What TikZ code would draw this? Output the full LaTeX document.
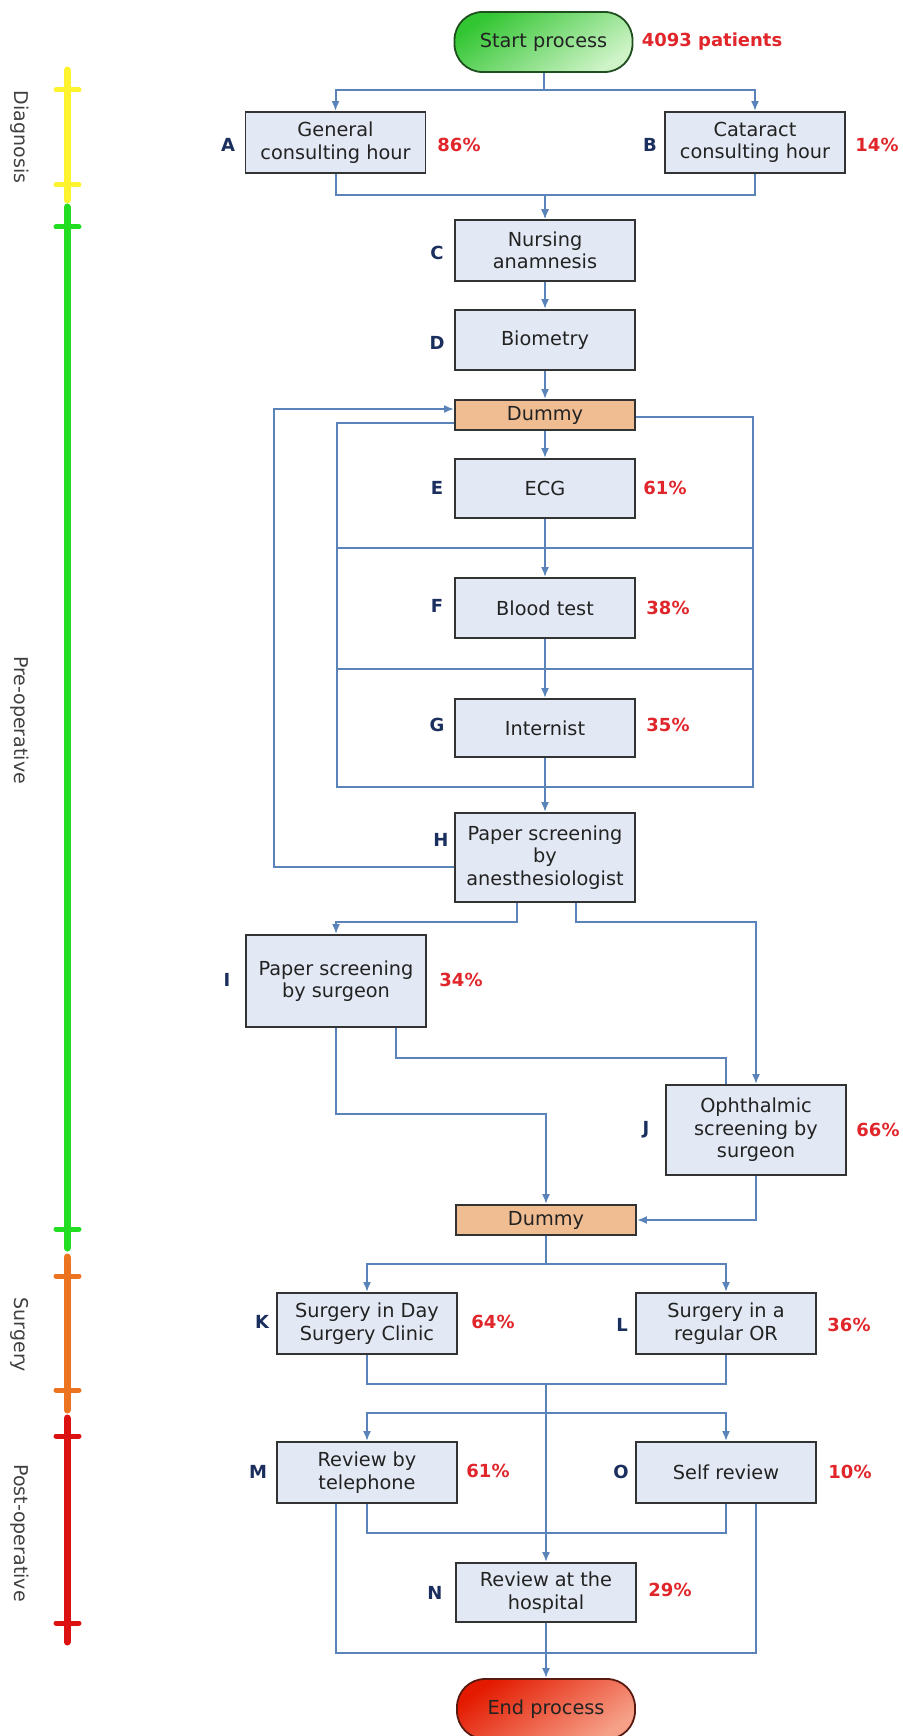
\documentclass[tikz,border=0pt]{standalone}
\usepackage{fontspec}
\setmainfont{DejaVu Sans}
\usetikzlibrary{arrows.meta,calc}

\definecolor{connblue}{HTML}{5A83B9}
\definecolor{boxline}{HTML}{333333}
\definecolor{boxfill}{HTML}{E3E9F4}
\definecolor{boxtext}{HTML}{222222}
\definecolor{dummyfill}{HTML}{F0BC91}
\definecolor{lblblue}{HTML}{1B2F5E}
\definecolor{pctred}{HTML}{E0262B}
\definecolor{phasegray}{HTML}{404040}
\definecolor{startA}{HTML}{33C633}
\definecolor{startB}{HTML}{CDF3C6}
\definecolor{startline}{HTML}{1F4F1F}
\definecolor{endA}{HTML}{E31A00}
\definecolor{endB}{HTML}{F6A088}
\definecolor{endline}{HTML}{5A1A10}
\definecolor{diagcol}{HTML}{FFF22E}
\definecolor{precol}{HTML}{22DD22}
\definecolor{surgcol}{HTML}{EC7420}
\definecolor{postcol}{HTML}{DC1212}

\newcommand\bxfont{\fontsize{19.3}{22.5}\selectfont}
\newcommand\lblfont{\fontsize{18}{20}\selectfont\bfseries}
\newcommand\phfont{\fontsize{19}{22}\selectfont}

\begin{document}
\begin{tikzpicture}[x=1pt,y=-1pt,
  box/.style={draw=boxline, line width=1.8pt, fill=boxfill, minimum width=180pt,
    align=center, inner sep=2pt, font=\bxfont, text=boxtext},
  dummybox/.style={box, fill=dummyfill, minimum height=30pt},
  terminal/.style={draw, line width=1.8pt, minimum width=178pt, minimum height=60pt,
    rounded corners=28pt, font=\bxfont, text=boxtext},
  conn/.style={draw=connblue, line width=2pt},
  arr/.style={conn, -{Latex[length=10pt,width=8pt]}},
  letter/.style={font=\lblfont, text=lblblue},
  pct/.style={font=\lblfont, text=pctred},
  phase/.style={font=\phfont, text=phasegray, rotate=-90},
  bar/.style={line width=7pt, line cap=round},
  tick/.style={line width=5pt, line cap=round}]

\useasboundingbox (0,0) rectangle (902,1736);
\clip (0,0) rectangle (902,1736);

% ---------- phase timeline ----------
\draw[bar, diagcol] (67,70) -- (67,200);
\draw[tick, diagcol] (56,90) -- (79,90);
\draw[tick, diagcol] (56,185) -- (79,185);
\draw[bar, precol] (67,207) -- (67,1248);
\draw[tick, precol] (56,227) -- (79,227);
\draw[tick, precol] (56,1229) -- (79,1229);
\draw[bar, surgcol] (67,1257) -- (67,1410);
\draw[tick, surgcol] (56,1276) -- (79,1276);
\draw[tick, surgcol] (56,1390) -- (79,1390);
\draw[bar, postcol] (67,1418) -- (67,1642);
\draw[tick, postcol] (56,1436) -- (79,1436);
\draw[tick, postcol] (56,1623) -- (79,1623);

\node[phase] (phDiag) at (20,137) {Diagnosis};
\node[phase] (phPre) at (20,720) {Pre-operative};
\node[phase] (phSurg) at (20,1335) {Surgery};
\node[phase] (phPost) at (20,1533) {Post-operative};

% ---------- process steps ----------
\node[terminal, draw=startline, top color=startA, bottom color=startB, shading angle=35]
  (start) at (543.5,42) {Start process};
\node[pct] (nPat) at (712,42) {4093 patients};

\node[box, minimum height=61pt] (A) at (335.5,142.5) {General\\consulting hour};
\node[box, minimum height=61pt] (B) at (755,142.5) {Cataract\\consulting hour};
\node[box, minimum height=61pt] (C) at (545,250.5) {Nursing\\anamnesis};
\node[box, minimum height=60pt] (D) at (545,340) {Biometry};
\node[dummybox] (dum1) at (545,415) {Dummy};
\node[box, minimum height=59pt] (E) at (545,488.5) {ECG};
\node[box, minimum height=60pt] (F) at (545,608) {Blood test};
\node[box, minimum height=58pt] (G) at (545,728) {Internist};
\node[box, minimum height=89pt] (H) at (545,857.5) {Paper screening\\by\\anesthesiologist};
\node[box, minimum height=92pt] (I) at (336,981) {Paper screening\\by surgeon};
\node[box, minimum height=90pt] (J) at (756,1130) {Ophthalmic\\screening by\\surgeon};
\node[dummybox] (dum2) at (546,1220) {Dummy};
\node[box, minimum height=61pt] (K) at (367,1323.5) {Surgery in Day\\Surgery Clinic};
\node[box, minimum height=61pt] (L) at (726,1323.5) {Surgery in a\\regular OR};
\node[box, minimum height=61pt] (M) at (367,1472.5) {Review by\\telephone};
\node[box, minimum height=61pt] (O) at (726,1472.5) {Self review};
\node[box, minimum height=59pt] (N) at (546,1592.5) {Review at the\\hospital};
\node[terminal, draw=endline, top color=endA, bottom color=endB, shading angle=35]
  (end) at (546,1709) {End process};

% ---------- step letters and shares ----------
\node[letter] (lA) at (228,145) {A};  \node[pct] (pA) at (459,145) {86\%};
\node[letter] (lB) at (650,145) {B};  \node[pct] (pB) at (877,145) {14\%};
\node[letter] (lC) at (437,253) {C};
\node[letter] (lD) at (437,343) {D};
\node[letter] (lE) at (437,488) {E};  \node[pct] (pE) at (665,488) {61\%};
\node[letter] (lF) at (437,606) {F};  \node[pct] (pF) at (668,608) {38\%};
\node[letter] (lG) at (437,725) {G};  \node[pct] (pG) at (668,725) {35\%};
\node[letter] (lH) at (441,840) {H};
\node[letter] (lI) at (227,980) {I};  \node[pct] (pI) at (461,980) {34\%};
\node[letter] (lJ) at (646,1130) {J}; \node[pct] (pJ) at (878,1130) {66\%};
\node[letter] (lK) at (262,1322) {K}; \node[pct] (pK) at (493,1322) {64\%};
\node[letter] (lL) at (622,1325) {L}; \node[pct] (pL) at (849,1325) {36\%};
\node[letter] (lM) at (258,1472) {M}; \node[pct] (pM) at (488,1471) {61\%};
\node[letter] (lO) at (621,1472) {O}; \node[pct] (pO) at (850,1472) {10\%};
\node[letter] (lN) at (435,1593) {N}; \node[pct] (pN) at (670,1590) {29\%};

% ---------- routing points ----------
\coordinate (loopL) at (337,787);
\coordinate (loopR) at (753,787);
\coordinate (sep1L) at (337,548);
\coordinate (sep1R) at (753,548);
\coordinate (sep2L) at (337,669);
\coordinate (sep2R) at (753,669);
\coordinate (backX) at (274,600);
\coordinate (mKL) at (546,1383);
\coordinate (sMO) at (546,1413);

% ---------- connectors ----------
\draw[arr] (start.south) -- ++(0,17) -| (A.north);
\draw[arr] (start.south) -- ++(0,17) -| (B.north);
\draw[arr] (A.south) -- ++(0,21) -| (C.north);
\draw[arr] (B.south) -- ++(0,21) -| (C.north);
\draw[arr] (C) -- (D);
\draw[arr] (D) -- (dum1);
\draw[arr] (dum1) -- (E);
\draw[arr] (E) -- (F);
\draw[arr] (F) -- (G);
\draw[arr] (G) -- (H);

% skip paths around E, F and G
\draw[conn] ([yshift=-8pt]dum1.west) -| (loopL) -- (loopR) |- ([yshift=-2pt]dum1.east);
\draw[conn] (sep1L) -- (sep1R);
\draw[conn] (sep2L) -- (sep2R);

% feedback from H
\draw[arr] ([yshift=-9.5pt]H.west) -| (backX) |- ([yshift=6pt]dum1.west);

\draw[arr] ([xshift=-28pt]H.south) -- ++(0,19) -| (I.north);
\draw[arr] ([xshift=31pt]H.south) -- ++(0,19) -| (J.north);
\draw[arr] (I.south) -- ++(0,86) -| (dum2.north);
\draw[conn] ([xshift=60pt]I.south) -- ++(0,30) -| ([xshift=-30pt]J.north);
\draw[arr] (J.south) |- (dum2.east);

\draw[arr] (dum2.south) -- ++(0,28) -| (K.north);
\draw[arr] (dum2.south) -- ++(0,28) -| (L.north);
\draw[conn] (K.south) -- ++(0,29) -| (L.south);
\draw[arr] (mKL) -- (N.north);
\draw[arr] (sMO) -| (M.north);
\draw[arr] (sMO) -| (O.north);
\draw[conn] (M.south) -- ++(0,29) -| (O.south);
\draw[conn] ([xshift=-31pt]M.south) -- ++(0,149) -| ([xshift=30pt]O.south);
\draw[arr] (N) -- (end);

\end{tikzpicture}
\end{document}
